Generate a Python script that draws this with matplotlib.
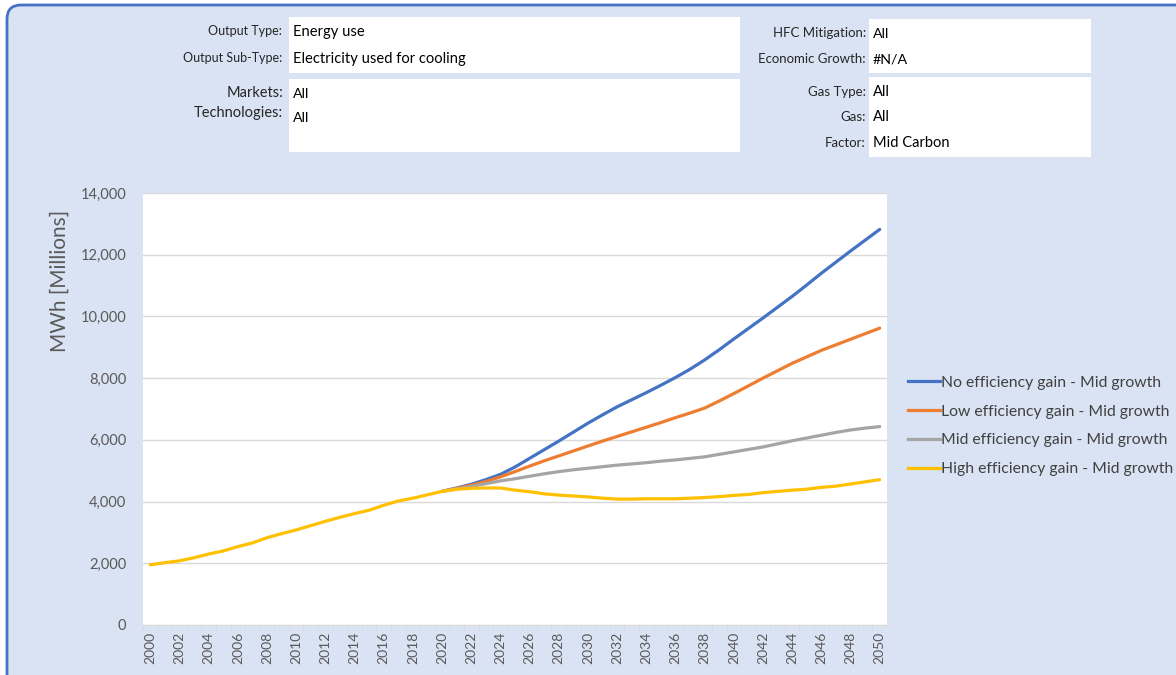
import matplotlib
matplotlib.use("Agg")
import matplotlib.pyplot as plt
from matplotlib.patches import FancyBboxPatch, Rectangle
from matplotlib.lines import Line2D
from matplotlib.ticker import FuncFormatter, MultipleLocator

plt.rcParams['font.family'] = ['Lato', 'DejaVu Sans']

# ---- data ----
years = list(range(2000, 2051))

history = [1950, 2020, 2080, 2180, 2300, 2400, 2540, 2660, 2830, 2960,
           3080, 3220, 3360, 3490, 3610, 3720, 3880, 4020, 4110, 4220, 4330]

no_gain = [4440, 4560, 4710, 4880, 5120, 5400, 5680, 5960, 6250, 6540,
           6810, 7070, 7300, 7530, 7770, 8020, 8290, 8590, 8920, 9270,
           9610, 9950, 10300, 10650, 11020, 11400, 11760, 12120, 12470, 12820]

low_gain = [4430, 4530, 4650, 4800, 4970, 5150, 5320, 5480, 5640, 5800,
            5960, 6110, 6260, 6410, 6560, 6720, 6870, 7030, 7260, 7500,
            7750, 8000, 8240, 8480, 8690, 8900, 9080, 9260, 9440, 9620]

mid_gain = [4410, 4490, 4580, 4670, 4740, 4820, 4900, 4970, 5030, 5080,
            5130, 5180, 5220, 5260, 5310, 5350, 5400, 5450, 5530, 5610,
            5690, 5770, 5870, 5970, 6060, 6150, 6240, 6320, 6380, 6430]

high_gain = [4400, 4430, 4440, 4440, 4370, 4320, 4250, 4210, 4180, 4150,
             4110, 4080, 4080, 4090, 4090, 4090, 4110, 4130, 4160, 4200,
             4230, 4290, 4330, 4370, 4400, 4460, 4500, 4570, 4640, 4710]

series_names = ["No efficiency gain - Mid growth",
                "Low efficiency gain - Mid growth",
                "Mid efficiency gain - Mid growth",
                "High efficiency gain - Mid growth"]
series_colors = ["#4472C4", "#ED7D31", "#A5A5A5", "#FFC000"]

left_fields = [("Output Type:", "Energy use"), ("Output Sub-Type:", "Electricity used for cooling")]
left_fields2 = [("Markets:", "All"), ("Technologies:", "All")]
right_fields = [("HFC Mitigation:", "All"), ("Economic Growth:", "#N/A")]
right_fields2 = [("Gas Type:", "All"), ("Gas:", "All"), ("Factor:", "Mid Carbon")]

W, H = 1176, 675
bg = "#DAE3F3"


def fx(x):
    return x / W


def fy(y):
    return 1 - y / H


fig = plt.figure(figsize=(W / 100, H / 100), dpi=100)
fig.patch.set_facecolor("white")

# outer rounded frame
frame = FancyBboxPatch((fx(7), -0.05), 1.1, fy(5) + 0.05,
                       boxstyle="round,pad=0,rounding_size=0.012",
                       transform=fig.transFigure, facecolor=bg,
                       edgecolor="#4472C4", linewidth=2, zorder=0,
                       mutation_aspect=W / H)
fig.patches.append(frame)

# white filter boxes
for (x0, y0, x1, y1) in [(289, 17, 740, 73), (289, 79, 740, 152),
                         (869, 19, 1091, 73), (869, 77, 1091, 157)]:
    fig.patches.append(Rectangle((fx(x0), fy(y1)), fx(x1 - x0), (y1 - y0) / H,
                                 transform=fig.transFigure, facecolor="white",
                                 edgecolor="none", zorder=1))

lab_col = "#262626"
for (lab, val), y in zip(left_fields, [31, 58]):
    fig.text(fx(282), fy(y), lab, ha="right", va="center", fontsize=9, color=lab_col)
    fig.text(fx(293), fy(y + 1), val, ha="left", va="center", fontsize=10.6, color="black")
for (lab, val), (y, vy) in zip(left_fields2, [(93, 94), (113, 118)]):
    fig.text(fx(283), fy(y), lab, ha="right", va="center", fontsize=10.5, color=lab_col)
    fig.text(fx(293), fy(vy), val, ha="left", va="center", fontsize=10.3, color="black")
for (lab, val), y in zip(right_fields, [33, 59]):
    fig.text(fx(866), fy(y), lab, ha="right", va="center", fontsize=9.5, color=lab_col)
    fig.text(fx(873), fy(y + 1), val, ha="left", va="center", fontsize=10.3, color="black")
for (lab, val), y in zip(right_fields2, [92, 117, 143]):
    fig.text(fx(866), fy(y), lab, ha="right", va="center", fontsize=9.5, color=lab_col)
    fig.text(fx(873), fy(y), val, ha="left", va="center", fontsize=10.5, color="black")

# ---- chart ----
ax = fig.add_axes([fx(143), fy(625), fx(887 - 143), (625 - 193) / H])
ax.set_facecolor("white")
ax.set_zorder(2)

hist_years = years[:21]
fut_years = years[20:]
futures = [no_gain, low_gain, mid_gain, high_gain]
for vals, name, col in zip(futures, series_names, series_colors):
    ax.plot(fut_years, [history[-1]] + vals, color=col, lw=2.3,
            solid_capstyle="round", label=name)
ax.plot(hist_years, history, color=series_colors[3], lw=2.3, solid_capstyle="round")

ax.set_xlim(1999.5, 2050.5)
ax.set_ylim(0, 14000)
ax.yaxis.set_major_locator(MultipleLocator(2000))
ax.yaxis.set_major_formatter(FuncFormatter(lambda v, p: f"{int(v):,}"))
ax.grid(axis="y", color="#D9D9D9", lw=1)
ax.set_axisbelow(True)
for s in ["top", "right", "left"]:
    ax.spines[s].set_visible(False)
ax.spines["bottom"].set_color("#D9D9D9")
ax.set_xticks(years[::2])
ax.set_xticklabels([str(y) for y in years[::2]], rotation=90)
ax.set_xticks([y + 0.5 for y in years[:-1]] + [1999.5], minor=True)
ax.tick_params(axis="x", which="major", length=0, pad=5, labelsize=10, labelcolor="#595959")
ax.tick_params(axis="x", which="minor", length=4, color="#D9D9D9")
ax.tick_params(axis="y", length=0, pad=12, labelsize=10.5, labelcolor="#595959")

fig.text(fx(60), fy(281), "MWh [Millions]", rotation=90, ha="center", va="center",
         fontsize=15, color="#595959")

handles = [Line2D([], [], color=c, lw=2.3) for c in series_colors]
fig.legend(handles, series_names, loc="center left", bbox_to_anchor=(fx(902), fy(426)),
           frameon=False, fontsize=11.3, handlelength=2.0, handletextpad=0.1,
           labelspacing=0.95, labelcolor="#404040", borderaxespad=0)

fig.savefig("out.png", dpi=100, facecolor=fig.get_facecolor())
